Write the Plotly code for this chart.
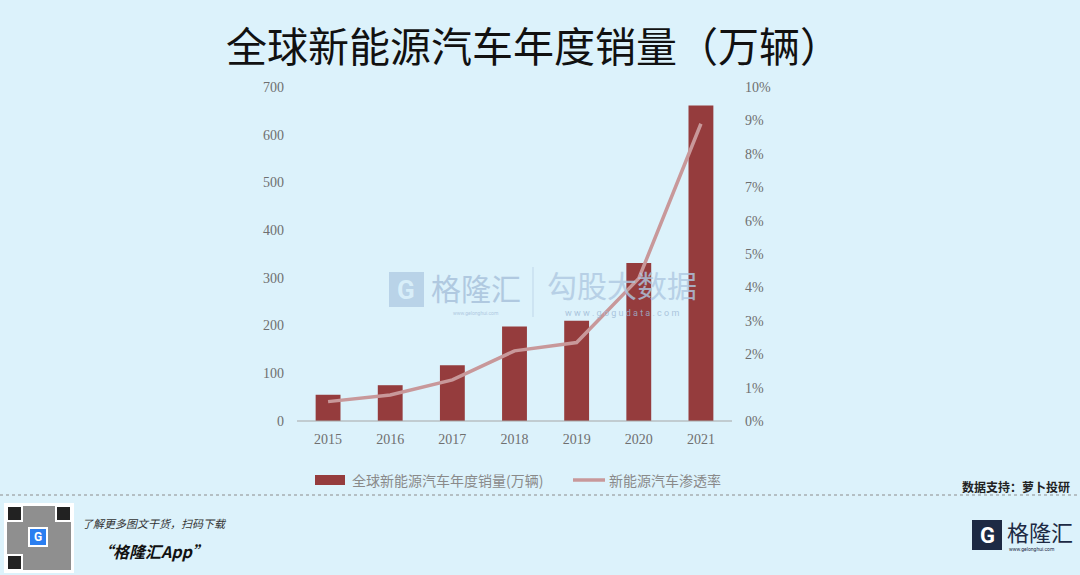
import plotly.graph_objects as go

years = ["2015", "2016", "2017", "2018", "2019", "2020", "2021"]
sales = [55, 75, 117, 198, 210, 331, 661]
penetration = [0.0058, 0.0078, 0.0123, 0.021, 0.0235, 0.0427, 0.089]
left_ticks = [0, 100, 200, 300, 400, 500, 600, 700]
right_ticks = [0, 0.01, 0.02, 0.03, 0.04, 0.05, 0.06, 0.07, 0.08, 0.09, 0.10]

W, H = 1080, 575
L, R, T, B = 297, 732, 87, 421
BG = "#dcf2fb"
BAR = "#953c3d"
LINE = "#c8989a"
TICK = "#6f6f6f"


def px(x):
    return (x - L) / (R - L)


def py(y):
    return (B - y) / (B - T)


fig = go.Figure()
fig.add_trace(go.Bar(x=years, y=sales, name="全球新能源汽车年度销量(万辆)",
                     marker=dict(color=BAR, line=dict(width=0)), width=0.4,
                     showlegend=False))
fig.add_trace(go.Scatter(x=years, y=penetration, yaxis="y2", mode="lines",
                         name="新能源汽车渗透率", line=dict(color=LINE, width=3.5),
                         showlegend=False))

shapes = []
annotations = []


def text(x, y, s, size, color, family="Noto Sans CJK SC", xanchor="center", opacity=1.0):
    annotations.append(dict(x=px(x), y=py(y), xref="paper", yref="paper", xanchor=xanchor,
                            yanchor="middle", showarrow=False, text=s, opacity=opacity,
                            font=dict(family=family, size=size, color=color)))


def rect(x0, y0, x1, y1, fill, line=None, opacity=1.0):
    shapes.append(dict(type="rect", xref="paper", yref="paper", x0=px(x0), x1=px(x1),
                       y0=py(y1), y1=py(y0), fillcolor=fill, opacity=opacity,
                       line=line or dict(width=0)))


# x axis line
shapes.append(dict(type="line", xref="paper", yref="paper", x0=0, x1=1, y0=0, y1=0,
                   line=dict(color="#a6a6a6", width=1)))

# legend (manual)
rect(315, 475, 345, 485, BAR)
text(350, 480, "全球新能源汽车年度销量(万辆)", 14, "#8a8a8a", xanchor="left")
shapes.append(dict(type="line", xref="paper", yref="paper", x0=px(573), x1=px(605),
                   y0=py(480), y1=py(480), line=dict(color=LINE, width=3.5)))
text(607, 480, "新能源汽车渗透率", 14, "#8a8a8a", xanchor="left")

# title
text(533, 44, "全球新能源汽车年度销量（万辆）", 41, "#111111")

# data source
text(1072, 486, "<b>数据支持：萝卜投研</b>", 12, "#222222", xanchor="right")

# dashed separator
shapes.append(dict(type="line", xref="paper", yref="paper", x0=px(0), x1=px(1080),
                   y0=py(495), y1=py(495), line=dict(color="#8c8c8c", width=1, dash="dot")))

# watermark
rect(389, 272, 424, 307, "#a9c6e0", opacity=0.7)
text(406, 290, "<b>G</b>", 26, BG, family="Roboto", opacity=0.9)
text(476, 287, "格隆汇", 30, "#a9c3dc", opacity=0.85)
text(476, 313, "www.gelonghui.com", 5, "#a9c3dc", family="Roboto", opacity=0.85)
shapes.append(dict(type="line", xref="paper", yref="paper", x0=px(533), x1=px(533),
                   y0=py(317), y1=py(267), line=dict(color="#b9d0e6", width=1), opacity=0.8))
text(622, 284, "勾股大数据", 30, "#aec8e1", opacity=0.8)
text(622, 313, "w w w . g o g u d a t a . c o m", 9, "#9fbad6", family="Roboto", opacity=0.8)

# QR placeholder
rect(4, 503, 74, 573, "#ffffff")
rect(7, 506, 71, 570, "#8f8f8f")
for (qx, qy) in [(7, 506), (56, 506), (7, 555)]:
    rect(qx, qy, qx + 15, qy + 15, "#222222", line=dict(color="#ffffff", width=2))
rect(29, 528, 47, 546, "#2a7ef0", line=dict(color="#ffffff", width=2))
text(38, 537, "<b>G</b>", 12, "#ffffff", family="Roboto")

text(80, 523, "<i>了解更多图文干货，扫码下载</i>", 11, "#333333", xanchor="left")
text(95, 551, "<b><i>“格隆汇App”</i></b>", 16, "#111111", xanchor="left")

# right logo
rect(972, 520, 1002, 550, "#1d2a44")
text(987, 535, "<b>G</b>", 22, "#ffffff", family="Roboto")
text(1005, 531, "格隆汇", 22, "#1d2a44", xanchor="left")
text(1007, 549, "www.gelonghui.com", 5, "#1d2a44", family="Roboto", xanchor="left")

fig.update_layout(
    width=W, height=H,
    margin=dict(l=L, r=W - R, t=T, b=H - B, pad=0),
    paper_bgcolor=BG, plot_bgcolor=BG,
    showlegend=False,
    xaxis=dict(type="category", showgrid=False, zeroline=False, showline=False,
               tickfont=dict(family="Liberation Serif", size=14, color=TICK),
               ticks="", ticklabelstandoff=8),
    yaxis=dict(range=[0, 700], tickvals=left_ticks, showgrid=False, zeroline=False,
               showline=False, ticks="", ticklabelstandoff=12,
               tickfont=dict(family="Liberation Serif", size=14, color=TICK)),
    yaxis2=dict(range=[0, 0.10], tickvals=right_ticks, tickformat=".0%", overlaying="y",
                side="right", showgrid=False, zeroline=False, showline=False, ticks="",
                ticklabelstandoff=12,
                tickfont=dict(family="Liberation Serif", size=14, color=TICK)),
    shapes=shapes,
    annotations=annotations,
)

fig.write_html("out.html", config={"displayModeBar": False},
               post_script="document.body.style.margin='0px';")
